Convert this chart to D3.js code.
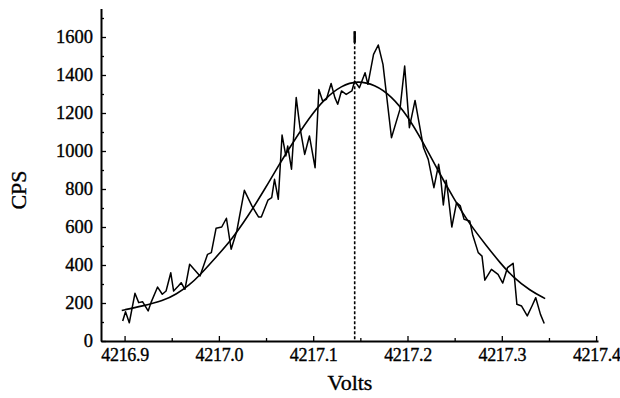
<!DOCTYPE html>
<html>
<head>
<meta charset="utf-8">
<script src="https://cdn.jsdelivr.net/npm/d3@7"></script>
<style>
	body { margin: 0; background: #fff; }
	svg text { font-family: "Liberation Serif", "DejaVu Serif", serif; fill: #000; stroke: #000; stroke-width: 0.35px; }
	.axis path, .axis line { stroke: #000; }
</style>
</head>
<body>
<svg id="mainSvg" width="620" height="398"></svg>
<script>
// measured counts (volts, cps)
const volts = [4216.898, 4216.901, 4216.905, 4216.911, 4216.915, 4216.919, 4216.925, 4216.928, 4216.935, 4216.940,
	4216.944, 4216.949, 4216.952, 4216.957, 4216.960, 4216.964, 4216.969, 4216.980, 4216.988, 4216.992,
	4216.997, 4217.003, 4217.008, 4217.013, 4217.019, 4217.027, 4217.035, 4217.042, 4217.045, 4217.052,
	4217.056, 4217.059, 4217.063, 4217.067, 4217.071, 4217.073, 4217.077, 4217.082, 4217.086, 4217.091,
	4217.096, 4217.102, 4217.106, 4217.110, 4217.114, 4217.119, 4217.123, 4217.126, 4217.130, 4217.135,
	4217.141, 4217.144, 4217.149, 4217.155, 4217.158, 4217.164, 4217.169, 4217.174, 4217.183, 4217.192,
	4217.197, 4217.202, 4217.208, 4217.217, 4217.222, 4217.228, 4217.233, 4217.235, 4217.238, 4217.241,
	4217.243, 4217.247, 4217.252, 4217.256, 4217.260, 4217.266, 4217.269, 4217.275, 4217.279, 4217.282,
	4217.289, 4217.296, 4217.301, 4217.306, 4217.312, 4217.316, 4217.321, 4217.327, 4217.332, 4217.336,
	4217.341, 4217.345];
const cps = [105, 154, 96, 251, 202, 207, 158, 202, 284, 246,
	263, 359, 263, 289, 307, 272, 404, 342, 456, 465,
	593, 600, 646, 483, 579, 793, 711, 653, 653, 741,
	755, 851, 746, 1084, 974, 1026, 904, 1281, 1123, 982,
	1079, 912, 1324, 1263, 1272, 1355, 1281, 1246, 1316, 1298,
	1316, 1368, 1333, 1412, 1351, 1509, 1558, 1456, 1070, 1219,
	1447, 1123, 1266, 1017, 956, 807, 930, 868, 716, 846,
	772, 600, 728, 711, 640, 632, 561, 465, 447, 320,
	377, 351, 305, 386, 409, 193, 184, 132, 184, 228,
	140, 92];

// fitted curve
const fitVolts = [4216.897, 4216.919, 4216.941, 4216.955, 4216.969, 4216.979, 4216.996, 4217.013, 4217.031, 4217.047,
	4217.064, 4217.078, 4217.095, 4217.112, 4217.130, 4217.147, 4217.165, 4217.183, 4217.200, 4217.216,
	4217.232, 4217.249, 4217.266, 4217.284, 4217.298, 4217.312, 4217.330, 4217.346];
const fitCps = [161, 184, 212, 246, 296, 342, 436, 530, 658, 785,
	930, 1040, 1170, 1275, 1345, 1370, 1350, 1290, 1185, 1050,
	900, 750, 614, 500, 412, 335, 265, 223];

const peakVolt = 4217.144;
const peakTop = 1630;

const xTicks = [4216.9, 4217.0, 4217.1, 4217.2, 4217.3, 4217.4];
const xMinor = [4216.95, 4217.05, 4217.15, 4217.25, 4217.35];
const yTicks = [0, 200, 400, 600, 800, 1000, 1200, 1400, 1600];
const yMinor = [100, 300, 500, 700, 900, 1100, 1300, 1500, 1700];

const svg = d3.select("#mainSvg");
const [plotL, plotR, plotT, plotB] = [101, 598, 8.5, 341];

const x = d3.scaleLinear().domain([4216.875, 4217.402]).range([plotL, plotR]);
const y = d3.scaleLinear().domain([0, 1750]).range([plotB, plotT]);

//axes, ticks point inward
const gx = svg.append("g").attr("class", "axis").attr("transform", `translate(0,${plotB})`)
	.call(d3.axisBottom(x).tickValues(xTicks).tickFormat(d3.format(".1f")).tickSizeInner(-5).tickSizeOuter(0).tickPadding(7));
svg.append("g").attr("class", "axis").attr("transform", `translate(0,${plotB})`)
	.call(d3.axisBottom(x).tickValues(xMinor).tickFormat("").tickSizeInner(-3).tickSizeOuter(0))
	.select(".domain").remove();
const gy = svg.append("g").attr("class", "axis").attr("transform", `translate(${plotL},0)`)
	.call(d3.axisLeft(y).tickValues(yTicks).tickFormat(d3.format("d")).tickSizeInner(-5).tickSizeOuter(0).tickPadding(8));
svg.append("g").attr("class", "axis").attr("transform", `translate(${plotL},0)`)
	.call(d3.axisLeft(y).tickValues(yMinor).tickFormat("").tickSizeInner(-3).tickSizeOuter(0))
	.select(".domain").remove();

svg.selectAll(".axis .domain").attr("stroke-width", 2);
svg.selectAll(".axis line").attr("stroke-width", 1.3);
gx.selectAll("text").style("font-size", "18px").style("letter-spacing", "-0.3px");
gy.selectAll("text").style("font-size", "18.5px");
// last label sits on the canvas edge
gx.selectAll(".tick").filter(d => d === 4217.4).select("text").attr("text-anchor", "end").attr("x", 24);

//dashed marker at the peak
svg.append("line")
	.attr("x1", x(peakVolt)).attr("x2", x(peakVolt))
	.attr("y1", y(peakTop)).attr("y2", y(0))
	.attr("stroke", "#000").attr("stroke-width", 1.6).attr("stroke-dasharray", "3,2");
svg.append("line")
	.attr("x1", x(peakVolt)).attr("x2", x(peakVolt))
	.attr("y1", y(peakTop)).attr("y2", y(peakTop - 60))
	.attr("stroke", "#000").attr("stroke-width", 2.5);

const raw = volts.map((v, i) => [v, cps[i]]);
const fit = fitVolts.map((v, i) => [v, fitCps[i]]);

svg.append("path").datum(raw)
	.attr("fill", "none").attr("stroke", "#000").attr("stroke-width", 1.5).attr("stroke-linejoin", "round")
	.attr("d", d3.line().x(d => x(d[0])).y(d => y(d[1])));

svg.append("path").datum(fit)
	.attr("fill", "none").attr("stroke", "#000").attr("stroke-width", 1.6)
	.attr("d", d3.line().curve(d3.curveBasis).x(d => x(d[0])).y(d => y(d[1])));

svg.append("text").attr("x", 350).attr("y", 390).attr("text-anchor", "middle")
	.style("font-size", "22px").text("Volts");
svg.append("text").attr("transform", "translate(26,190) rotate(-90)").attr("text-anchor", "middle")
	.style("font-size", "22px").text("CPS");
</script>
</body>
</html>
